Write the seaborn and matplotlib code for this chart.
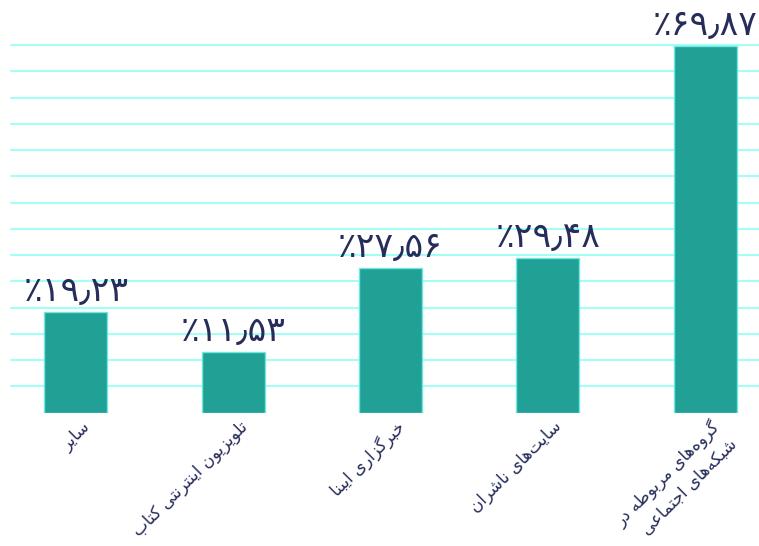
import matplotlib
matplotlib.use("Agg")
import matplotlib.pyplot as plt
import matplotlib.transforms as mtransforms
import seaborn as sns
import pandas as pd

# Share of visits by source (percent)
categories = [
    "سایر",
    "تلویزیون اینترنتی کتاب",
    "خبرگزاری ایبنا",
    "سایت‌های ناشران",
    "گروه‌های مربوطه در\nشبکه‌های اجتماعی",
]
values = [19.23, 11.53, 27.56, 29.48, 69.87]

BAR_COLOR = "#21a096"
BAR_EDGE = "#6fe9dd"
GRID_COLOR = "#a3fff6"
TEXT_COLOR = "#262d5a"

# Arabic-script contextual forms: isolated, final, initial, medial
FORMS = {
    "ا": ("\uFE8D", "\uFE8E", None, None),
    "ب": ("\uFE8F", "\uFE90", "\uFE91", "\uFE92"),
    "ت": ("\uFE95", "\uFE96", "\uFE97", "\uFE98"),
    "ج": ("\uFE9D", "\uFE9E", "\uFE9F", "\uFEA0"),
    "خ": ("\uFEA5", "\uFEA6", "\uFEA7", "\uFEA8"),
    "د": ("\uFEA9", "\uFEAA", None, None),
    "ر": ("\uFEAD", "\uFEAE", None, None),
    "ز": ("\uFEAF", "\uFEB0", None, None),
    "س": ("\uFEB1", "\uFEB2", "\uFEB3", "\uFEB4"),
    "ش": ("\uFEB5", "\uFEB6", "\uFEB7", "\uFEB8"),
    "ط": ("\uFEC1", "\uFEC2", "\uFEC3", "\uFEC4"),
    "ع": ("\uFEC9", "\uFECA", "\uFECB", "\uFECC"),
    "ک": ("\uFB8E", "\uFB8F", "\uFB90", "\uFB91"),
    "گ": ("\uFB92", "\uFB93", "\uFB94", "\uFB95"),
    "ل": ("\uFEDD", "\uFEDE", "\uFEDF", "\uFEE0"),
    "م": ("\uFEE1", "\uFEE2", "\uFEE3", "\uFEE4"),
    "ن": ("\uFEE5", "\uFEE6", "\uFEE7", "\uFEE8"),
    "و": ("\uFEED", "\uFEEE", None, None),
    "ه": ("\uFEE9", "\uFEEA", "\uFEEB", "\uFEEC"),
    "ی": ("\uFBFC", "\uFBFD", "\uFBFE", "\uFBFF"),
}


def shape_line(line):
    """Join letters with their contextual forms and lay them out right-to-left."""
    out = []
    n = len(line)
    for i, ch in enumerate(line):
        if ch not in FORMS:
            if ch != "\u200c":
                out.append(ch)
            continue
        prev = line[i - 1] if i > 0 else ""
        nxt = line[i + 1] if i + 1 < n else ""
        dual = FORMS[ch][2] is not None
        join_prev = prev in FORMS and FORMS[prev][2] is not None
        join_next = dual and nxt in FORMS
        iso, fin, ini, med = FORMS[ch]
        if join_prev and join_next:
            out.append(med)
        elif join_prev:
            out.append(fin)
        elif join_next:
            out.append(ini)
        else:
            out.append(iso)
    return "".join(reversed(out))


def rtl(text):
    return "\n".join(shape_line(l) for l in text.split("\n"))


PERSIAN_DIGITS = str.maketrans("0123456789.", "۰۱۲۳۴۵۶۷۸۹٫")


def pct_label(v):
    return "٪" + f"{v:.2f}".translate(PERSIAN_DIGITS)


sns.set_style("white")
plt.rcParams["font.family"] = ["DejaVu Sans"]

df = pd.DataFrame({"source": [rtl(c) for c in categories], "share": values})

fig = plt.figure(figsize=(7.59, 5.46), dpi=100)
ax = fig.add_axes([11 / 759, 133.3 / 546, 748 / 759, 367.7 / 546])

sns.barplot(
    data=df, x="source", y="share", order=df["source"], ax=ax,
    color=BAR_COLOR, saturation=1, width=0.4,
    edgecolor=BAR_EDGE, linewidth=1.0, zorder=3,
)

ax.set_ylim(0, 70)
ax.set_xlim(-0.413, 4.343)
ax.set_yticks(range(5, 71, 5))
ax.yaxis.grid(True, color=GRID_COLOR, linewidth=1.5, zorder=0)
for gl in ax.get_ygridlines():
    gl.set_clip_on(False)
ax.xaxis.grid(False)
ax.set_axisbelow(True)
ax.tick_params(axis="both", length=0, labelleft=False)
ax.set_xlabel("")
ax.set_ylabel("")
for s in ax.spines.values():
    s.set_visible(False)

# Value labels above each bar
for i, v in enumerate(values):
    ax.annotate(pct_label(v), (i, v), xytext=(0, 3), textcoords="offset points",
                ha="center", va="bottom", fontsize=25, color=TEXT_COLOR)

# Rotated category labels under the bars
ax.set_xticks(range(len(categories)))
ax.set_xticklabels(df["source"], rotation=45, ha="right", va="top",
                   rotation_mode="anchor", fontsize=12, color=TEXT_COLOR,
                   multialignment="right", linespacing=1.4)
shift = mtransforms.ScaledTranslation(5 / 100, 0, fig.dpi_scale_trans)
for lbl in ax.get_xticklabels():
    lbl.set_transform(lbl.get_transform() + shift)

fig.savefig("out.png", dpi=100)
